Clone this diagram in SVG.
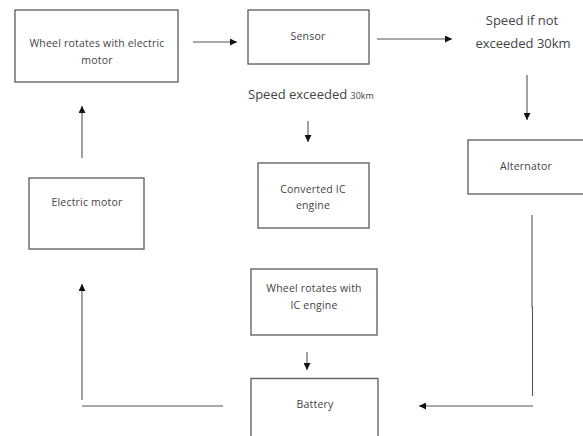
<svg xmlns="http://www.w3.org/2000/svg" width="583" height="436" viewBox="0 0 583 436">
<defs>
<marker id="ah" viewBox="0 0 10 10" refX="10" refY="5" markerWidth="7" markerHeight="7" markerUnits="userSpaceOnUse" orient="auto">
<path d="M0,0 L10,5 L0,10 z" fill="#111"/>
</marker>
</defs>
<style>
.box{fill:#fff;stroke:#666;stroke-width:1.4}
.t{font-family:"Open Sans","Liberation Sans",sans-serif;font-size:10.5px;letter-spacing:0.2px;fill:#444;text-anchor:middle}
.lbl{font-family:"Open Sans","Liberation Sans",sans-serif;font-size:13px;fill:#444}
.c{fill:none;stroke:#555;stroke-width:1.1}
.a{marker-end:url(#ah)}
</style>
<rect width="583" height="436" fill="#fff"/>
<g id="wheel-electric">
<rect class="box" x="15" y="10" width="163" height="72"/>
<text class="t" x="97" y="47">Wheel rotates with electric</text>
<text class="t" x="97" y="64">motor</text>
</g>
<g id="sensor">
<rect class="box" x="248" y="10" width="121" height="54"/>
<text class="t" x="308" y="40">Sensor</text>
</g>
<g id="speed-not-exceeded">
<text class="lbl" x="522" y="25" text-anchor="middle">Speed if not</text>
<text class="lbl" x="523" y="48" text-anchor="middle">exceeded 30km</text>
</g>
<g id="speed-exceeded">
<text class="lbl" x="248" y="99">Speed exceeded <tspan font-size="9">30km</tspan></text>
</g>
<g id="alternator">
<rect class="box" x="468" y="140" width="116" height="54"/>
<text class="t" x="526" y="170">Alternator</text>
</g>
<g id="electric-motor">
<rect class="box" x="29" y="178" width="115" height="71"/>
<text class="t" x="87" y="206">Electric motor</text>
</g>
<g id="converted-ic">
<rect class="box" x="258" y="163" width="111" height="65"/>
<text class="t" x="313" y="193">Converted IC</text>
<text class="t" x="313" y="209">engine</text>
</g>
<g id="wheel-ic">
<rect class="box" x="251" y="269" width="126" height="66"/>
<text class="t" x="314" y="292">Wheel rotates with</text>
<text class="t" x="314" y="309">IC engine</text>
</g>
<g id="battery">
<path class="box" d="M251,437 V378.5 H378 V437"/>
<text class="t" x="315" y="408">Battery</text>
</g>
<g id="connectors">
<line class="c a" x1="193" y1="42" x2="237" y2="42"/>
<line class="c a" x1="377" y1="39" x2="452" y2="39"/>
<line class="c a" x1="527" y1="75" x2="527" y2="120"/>
<line class="c a" x1="308" y1="121" x2="308" y2="142"/>
<line class="c a" x1="82" y1="158" x2="82" y2="106"/>
<line class="c a" x1="307" y1="352" x2="307" y2="370"/>
<polyline class="c" points="532,215 532,307 532.5,307 532.5,396"/>
<line class="c a" x1="533" y1="406" x2="419" y2="406"/>
<line class="c" x1="223" y1="406" x2="82" y2="406"/>
<line class="c a" x1="82" y1="400" x2="82" y2="284"/>
</g>
</svg>
